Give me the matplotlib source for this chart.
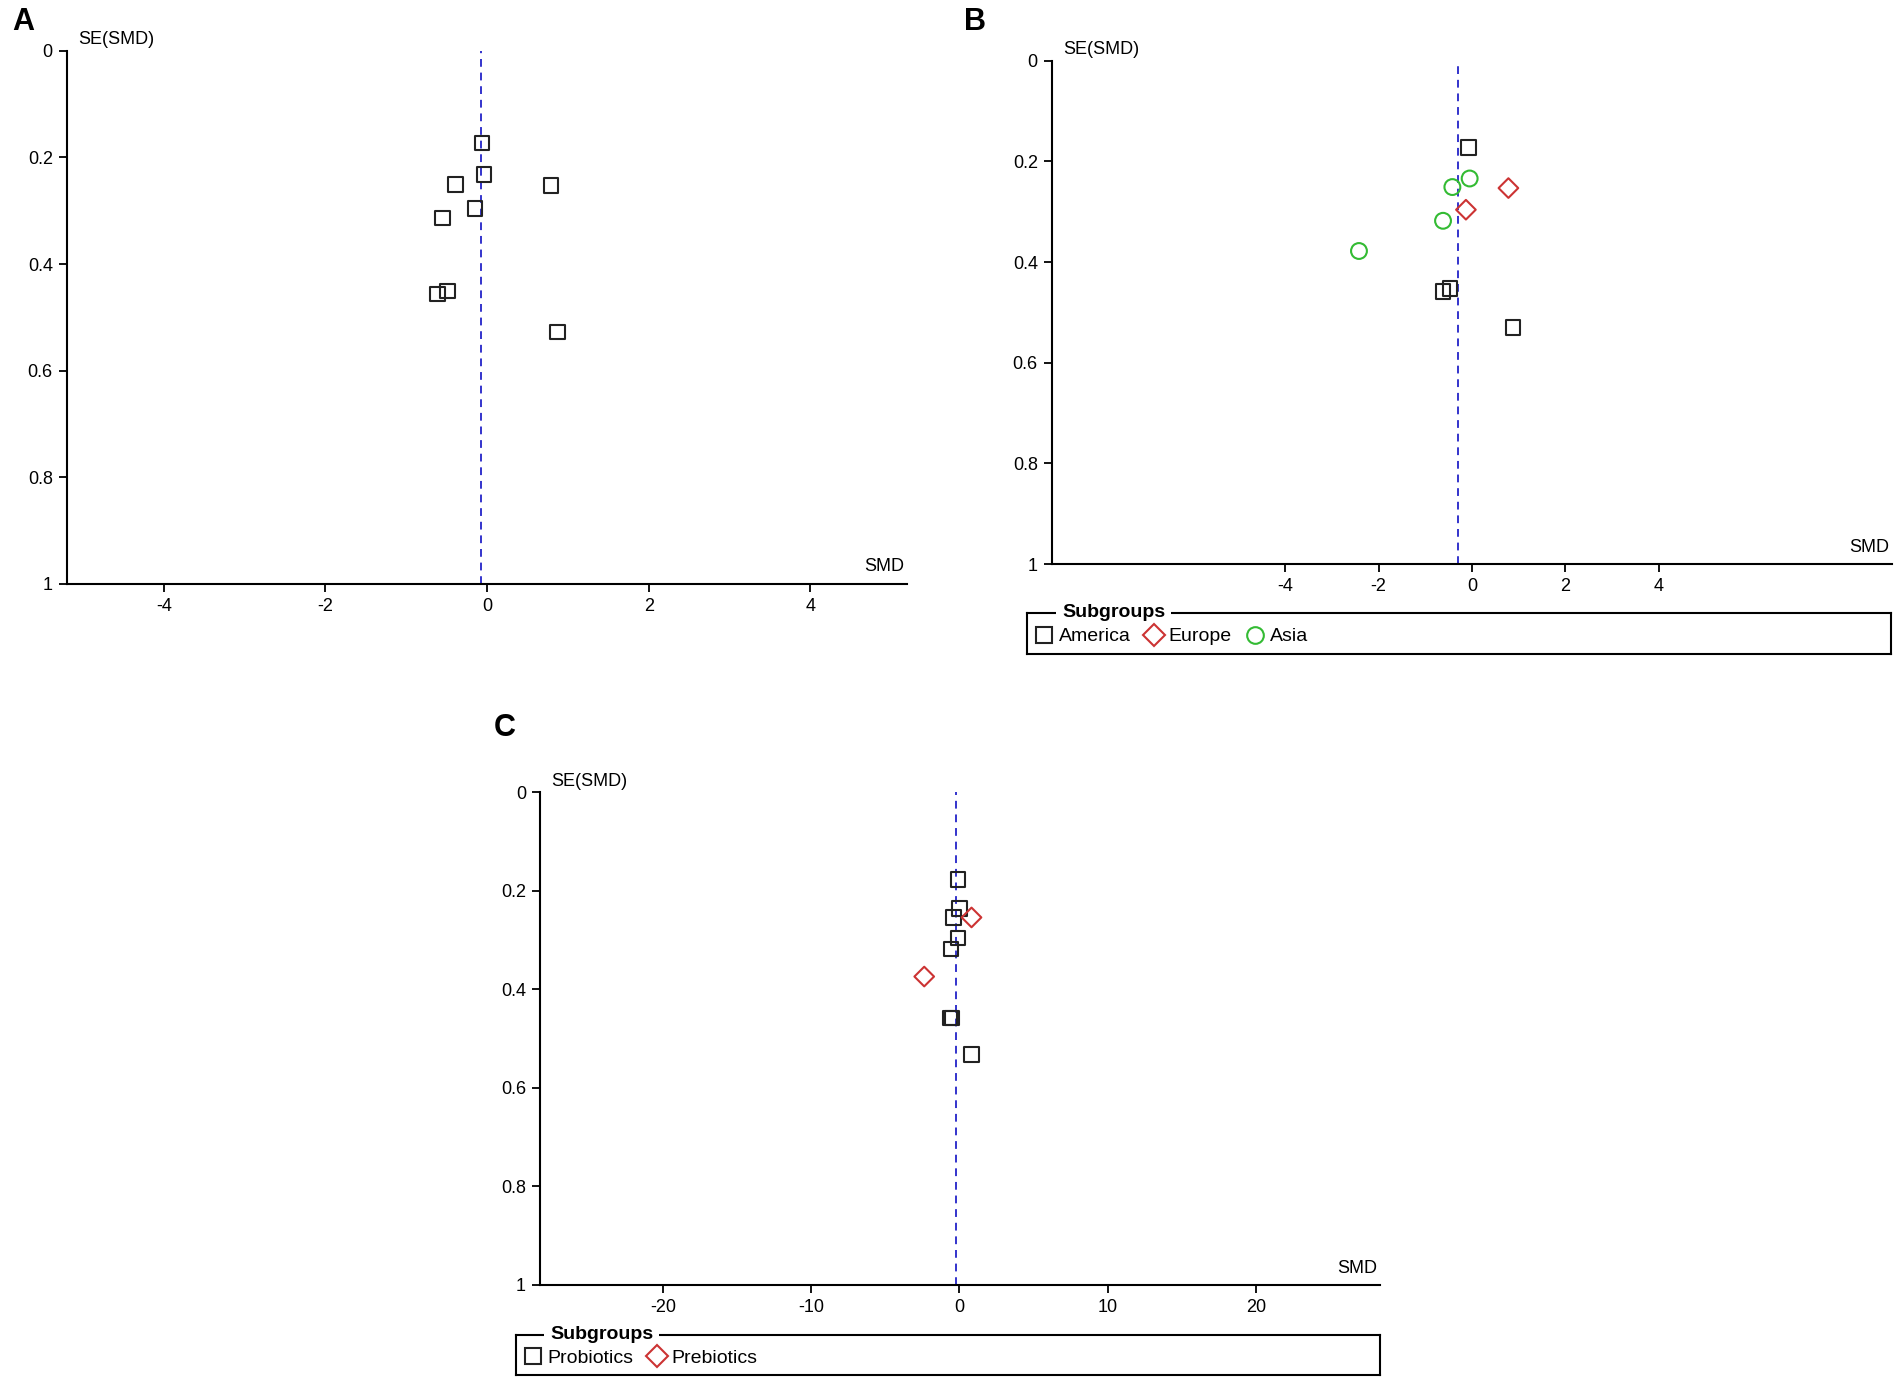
import numpy as np
import matplotlib.pyplot as plt
from matplotlib.lines import Line2D

plt.rcParams['font.family'] = ['Liberation Sans Narrow', 'Liberation Sans', 'DejaVu Sans']
plt.rcParams['axes.unicode_minus'] = False

# panel A: all studies
a_smd = [-0.06, -0.04, -0.39, 0.79, -0.15, -0.55, -0.49, -0.61, 0.87]
a_se = [0.173, 0.232, 0.251, 0.253, 0.296, 0.314, 0.451, 0.456, 0.528]
a_pooled = -0.07

# panel B: by region
b_america_smd = [-0.08, -0.62, -0.47, 0.88]
b_america_se = [0.173, 0.458, 0.453, 0.530]
b_europe_smd = [0.78, -0.13]
b_europe_se = [0.253, 0.296]
b_asia_smd = [-0.05, -0.42, -0.62, -2.42]
b_asia_se = [0.234, 0.251, 0.318, 0.378]
b_pooled = -0.29

# panel C: by supplement type
c_pro_smd = [-0.08, 0.0, -0.40, -0.08, -0.57, -0.62, -0.50, 0.82]
c_pro_se = [0.177, 0.236, 0.254, 0.296, 0.318, 0.458, 0.458, 0.532]
c_pre_smd = [0.82, -2.37]
c_pre_se = [0.254, 0.374]
c_pooled = -0.25

y_ticks = [0, 0.2, 0.4, 0.6, 0.8, 1]
y_labels = ['0', '0.2', '0.4', '0.6', '0.8', '1']

BLACK = '#222222'
RED = '#cc3333'
GREEN = '#33bb33'
BLUE = '#3333cc'

fig = plt.figure(figsize=(19.02, 13.82), dpi=100)


def funnel_axes(rect, xlim, xticks, pooled):
    ax = fig.add_axes(rect)
    ax.set_xlim(*xlim)
    ax.set_ylim(1, 0)
    ax.spines['top'].set_visible(False)
    ax.spines['right'].set_visible(False)
    ax.spines['left'].set_linewidth(1.5)
    ax.spines['bottom'].set_linewidth(1.5)
    ax.set_yticks(y_ticks)
    ax.set_yticklabels(y_labels)
    ax.set_xticks(xticks)
    ax.set_xticklabels([str(t) for t in xticks])
    ax.tick_params(direction='out', length=6, width=1.3, labelsize=13, pad=4)
    ax.axvline(pooled, color=BLUE, linestyle=(0, (4, 3)), linewidth=1.4, zorder=1)
    ax.annotate('SE(SMD)', xy=(0, 1), xycoords='axes fraction', xytext=(8, 2),
                textcoords='offset points', ha='left', va='bottom', fontsize=13)
    ax.annotate('SMD', xy=(1, 0), xycoords='axes fraction', xytext=(-2, 6),
                textcoords='offset points', ha='right', va='bottom', fontsize=13)
    return ax


def pts(ax, x, y, marker, color, size):
    ax.scatter(x, y, marker=marker, s=size, facecolors='none', edgecolors=color,
               linewidths=1.5, zorder=3)


def legend_box(rect, handles, labels):
    lax = fig.add_axes(rect)
    lax.set_xticks([])
    lax.set_yticks([])
    for sp in lax.spines.values():
        sp.set_linewidth(1.5)
    lax.text(0.04, 1.0, 'Subgroups', transform=lax.transAxes, ha='left', va='center',
             fontsize=14, fontweight='bold',
             bbox=dict(facecolor='white', edgecolor='none', pad=4))
    lax.legend(handles, labels, loc='center left', bbox_to_anchor=(-0.005, 0.42),
               ncol=len(labels), frameon=False, fontsize=14, handletextpad=0.25,
               columnspacing=0.7, handlelength=1.0, borderaxespad=0.2)
    return lax


W, H = 1568, 1139

# A
ax_a = funnel_axes([55 / W, 1 - 481 / H, 693 / W, 439 / H], (-5.2, 5.2), [-4, -2, 0, 2, 4], a_pooled)
pts(ax_a, a_smd, a_se, 's', BLACK, 110)

# B
ax_b = funnel_axes([867 / W, 1 - 465 / H, 693 / W, 415 / H], (-9.0, 9.0), [-4, -2, 0, 2, 4], b_pooled)
pts(ax_b, b_america_smd, b_america_se, 's', BLACK, 110)
pts(ax_b, b_europe_smd, b_europe_se, 'D', RED, 100)
pts(ax_b, b_asia_smd, b_asia_se, 'o', GREEN, 130)

# C
ax_c = funnel_axes([445 / W, 1 - 1059 / H, 693 / W, 406 / H], (-28.3, 28.4), [-20, -10, 0, 10, 20], c_pooled)
pts(ax_c, c_pro_smd, c_pro_se, 's', BLACK, 110)
pts(ax_c, c_pre_smd, c_pre_se, 'D', RED, 100)

sq = Line2D([], [], marker='s', linestyle='none', markersize=11, markerfacecolor='none',
            markeredgecolor=BLACK, markeredgewidth=1.5)
di = Line2D([], [], marker='D', linestyle='none', markersize=11, markerfacecolor='none',
            markeredgecolor=RED, markeredgewidth=1.5)
ci = Line2D([], [], marker='o', linestyle='none', markersize=12, markerfacecolor='none',
            markeredgecolor=GREEN, markeredgewidth=1.5)

legend_box([847 / W, 1 - 539 / H, 712 / W, 34 / H], [sq, di, ci], ['America', 'Europe', 'Asia'])
legend_box([425 / W, 1 - 1133 / H, 713 / W, 33 / H], [sq, di], ['Probiotics', 'Prebiotics'])

fig.text(10 / W, 1 - 18 / H, 'A', fontsize=22, fontweight='bold', va='center', ha='left',
         family=['Liberation Sans', 'DejaVu Sans'])
fig.text(795 / W, 1 - 18 / H, 'B', fontsize=22, fontweight='bold', va='center', ha='left',
         family=['Liberation Sans', 'DejaVu Sans'])
fig.text(407 / W, 1 - 600 / H, 'C', fontsize=22, fontweight='bold', va='center', ha='left',
         family=['Liberation Sans', 'DejaVu Sans'])

fig.savefig('out.png', dpi=100)
